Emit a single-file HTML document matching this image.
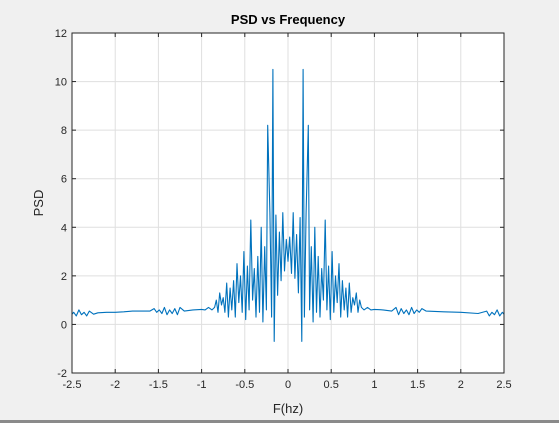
<!DOCTYPE html>
<html><head><meta charset="utf-8"><style>
html,body{margin:0;padding:0;background:#f0f0f0;}
svg{display:block;font-family:"Liberation Sans",Arial,sans-serif;}
</style></head><body>
<svg id="chart" width="559" height="423" viewBox="0 0 559 423">
<rect x="0" y="0" width="559" height="423" fill="#f0f0f0"/>
<rect x="0" y="420" width="559" height="3" fill="#8a8a8a"/>
<rect x="72" y="33" width="432" height="340" fill="#ffffff"/>
<g id="grid"></g>
<g id="series"></g>
<rect x="72" y="33" width="432" height="340" fill="none" stroke="#262626" stroke-width="1"/>
<g id="ticks"></g>
<text x="288" y="24" text-anchor="middle" font-size="13" font-weight="bold" fill="#000">PSD vs Frequency</text>
<text x="288" y="413" text-anchor="middle" font-size="13" fill="#262626">F(hz)</text>
<text transform="translate(43,203) rotate(-90)" text-anchor="middle" font-size="13" fill="#262626">PSD</text>
</svg>
<script>
const xTicks = [-2.5,-2,-1.5,-1,-0.5,0,0.5,1,1.5,2,2.5];
const xTickLabels = ["-2.5","-2","-1.5","-1","-0.5","0","0.5","1","1.5","2","2.5"];
const yTicks = [-2,0,2,4,6,8,10,12];
const yTickLabels = ["-2","0","2","4","6","8","10","12"];
const freq = [-2.5,-2.48,-2.45,-2.42,-2.39,-2.36,-2.33,-2.3,-2.25,-2.2,-2.1,-2.0,-1.9,-1.8,-1.7,-1.6,-1.55,-1.52,-1.49,-1.46,-1.43,-1.4,-1.37,-1.34,-1.31,-1.28,-1.25,-1.2,-1.1,-1.0,-0.96,-0.92,-0.88,-0.85,-0.83,-0.81,-0.79,-0.77,-0.75,-0.73,-0.71,-0.69,-0.67,-0.65,-0.63,-0.61,-0.59,-0.57,-0.55,-0.53,-0.51,-0.49,-0.47,-0.45,-0.43,-0.41,-0.39,-0.37,-0.35,-0.33,-0.31,-0.29,-0.27,-0.25,-0.235,-0.21,-0.19,-0.175,-0.16,-0.14,-0.12,-0.1,-0.08,-0.06,-0.04,-0.02,0,0.02,0.04,0.06,0.08,0.1,0.12,0.14,0.16,0.175,0.19,0.21,0.235,0.25,0.27,0.29,0.31,0.33,0.35,0.37,0.39,0.41,0.43,0.45,0.47,0.49,0.51,0.53,0.55,0.57,0.59,0.61,0.63,0.65,0.67,0.69,0.71,0.73,0.75,0.77,0.79,0.81,0.83,0.85,0.88,0.92,0.96,1.0,1.1,1.2,1.25,1.28,1.31,1.34,1.37,1.4,1.43,1.46,1.49,1.52,1.55,1.6,1.8,2.0,2.2,2.3,2.33,2.36,2.39,2.42,2.45,2.48,2.5];
const psd = [0.42,0.5,0.35,0.6,0.4,0.5,0.35,0.55,0.42,0.48,0.5,0.5,0.52,0.55,0.55,0.55,0.65,0.5,0.6,0.45,0.7,0.4,0.6,0.45,0.65,0.4,0.7,0.55,0.6,0.62,0.6,0.7,0.6,0.7,1.0,0.5,1.3,0.8,1.1,0.5,1.7,0.3,1.5,0.6,1.8,0.3,2.5,0.9,2.0,0.5,3.0,0.2,2.4,0.6,4.3,1.0,2.3,0.3,2.8,0.5,4.0,0.1,3.2,0.6,8.2,4.6,0.3,10.5,-0.7,4.5,1.2,3.8,1.8,4.6,2.2,3.5,2.6,3.6,2.1,4.6,1.9,3.7,1.3,4.4,-0.7,10.5,0.3,4.6,8.2,0.6,3.2,0.1,4.0,0.5,2.8,0.3,2.3,1.0,4.3,0.6,2.4,0.2,3.0,0.5,2.0,0.9,2.5,0.3,1.8,0.6,1.5,0.3,1.7,0.5,1.1,0.8,1.3,0.5,1.0,0.7,0.6,0.7,0.6,0.62,0.6,0.55,0.7,0.4,0.65,0.45,0.6,0.4,0.7,0.45,0.6,0.5,0.65,0.55,0.52,0.5,0.45,0.55,0.35,0.5,0.4,0.6,0.35,0.5,0.42];

const X0=72,X1=504,Y0=373,Y1=33;
function sx(v){return X0+(v-(-2.5))/5*(X1-X0);}
function sy(v){return Y0-(v-(-2))/14*(Y0-Y1);}
const NS="http://www.w3.org/2000/svg";
const grid=document.getElementById('grid'), ticks=document.getElementById('ticks'), series=document.getElementById('series');
function mk(tag,attrs,parent){const e=document.createElementNS(NS,tag);for(const k in attrs)e.setAttribute(k,attrs[k]);parent.appendChild(e);return e;}
xTicks.forEach((t,i)=>{
  const x=sx(t);
  const g=mk('line',{x1:x,x2:x,y1:Y1,y2:Y0,stroke:'#dfdfdf','stroke-width':1},grid);
  
  
  const tb=mk('line',{x1:x,x2:x,y1:Y0,y2:Y0-4,stroke:'#262626'},ticks);
  
  
  const tt=mk('line',{x1:x,x2:x,y1:Y1,y2:Y1+4,stroke:'#262626'},ticks);
  
  
  const l=mk('text',{x:x,y:Y0+15,'text-anchor':'middle','font-size':11,fill:'#262626'},ticks);
  l.textContent=xTickLabels[i];
  
  
});
yTicks.forEach((t,i)=>{
  const y=sy(t);
  const g=mk('line',{x1:X0,x2:X1,y1:y,y2:y,stroke:'#dfdfdf','stroke-width':1},grid);
  
  
  const tl=mk('line',{x1:X0,x2:X0+4,y1:y,y2:y,stroke:'#262626'},ticks);
  
  
  const tr=mk('line',{x1:X1,x2:X1-4,y1:y,y2:y,stroke:'#262626'},ticks);
  
  
  const l=mk('text',{x:X0-5,y:y+4,'text-anchor':'end','font-size':11,fill:'#262626'},ticks);
  l.textContent=yTickLabels[i];
  
  
});
const pts=freq.map((f,i)=>sx(f).toFixed(1)+','+sy(psd[i]).toFixed(1)).join(' ');
const line=mk('polyline',{points:pts,fill:'none',stroke:'#0072bd','stroke-width':1.1,'stroke-linejoin':'round'},series);


</script>
</body></html>
